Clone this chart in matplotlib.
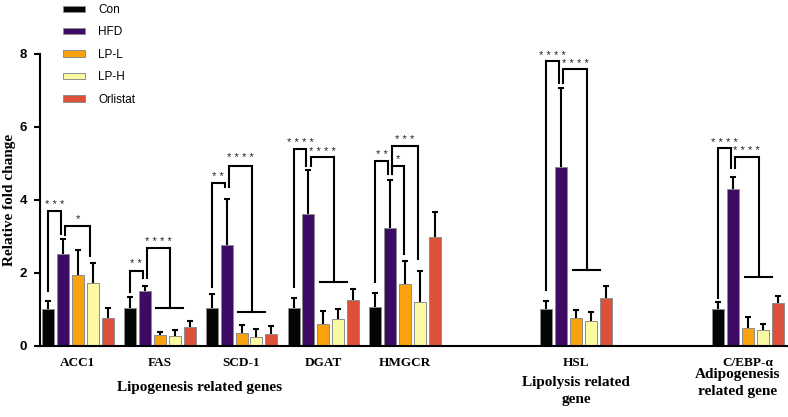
import numpy as np
import matplotlib
matplotlib.use("Agg")
import matplotlib.pyplot as plt
import matplotlib.transforms as mtransforms

# data
genes = ["ACC1", "FAS", "SCD-1", "DGAT", "HMGCR", "HSL", "C/EBP-\u03b1"]
groups = ["Con", "HFD", "LP-L", "LP-H", "Orlistat"]

con = [1.00, 1.02, 1.04, 1.03, 1.05, 1.01, 1.01]
con_sd = [0.23, 0.31, 0.38, 0.28, 0.40, 0.22, 0.19]
hfd = [2.52, 1.49, 2.75, 3.60, 3.23, 4.90, 4.30]
hfd_sd = [0.40, 0.15, 1.27, 1.20, 1.31, 2.16, 0.31]
lpl = [1.92, 0.30, 0.35, 0.58, 1.68, 0.74, 0.49]
lpl_sd = [0.69, 0.08, 0.22, 0.37, 0.64, 0.23, 0.30]
lph = [1.70, 0.27, 0.22, 0.73, 1.18, 0.67, 0.42]
lph_sd = [0.56, 0.15, 0.23, 0.27, 0.87, 0.24, 0.18]
orl = [0.76, 0.52, 0.32, 1.24, 2.97, 1.31, 1.16]
orl_sd = [0.28, 0.15, 0.21, 0.31, 0.70, 0.33, 0.20]

# significance: gene, left leg, right leg, bracket top, left foot, right foot, stars, star height
sig = [
    (0, "C", "H1", 3.68, 1.49, 3.05, "***", 3.94),
    (0, "H2", "Y", 3.27, 3.03, 2.45, "*", 3.55),
    (1, "C", "H1", 2.05, 1.47, 1.84, "**", 2.32),
    (1, "H2", "T", 2.66, 1.84, 1.04, "****", 2.94),
    (2, "C", "H1", 4.44, 1.61, 4.33, "**", 4.72),
    (2, "H2", "T", 4.93, 4.33, 0.91, "****", 5.22),
    (3, "C", "H1", 5.38, 1.61, 4.92, "****", 5.63),
    (3, "H2", "T", 5.17, 4.92, 1.73, "****", 5.40),
    (4, "C", "H1", 5.06, 1.73, 4.69, "**", 5.31),
    (4, "H2", "L", 4.92, 4.69, 2.51, "*", 5.19),
    (4, "H2", "Y", 5.47, 4.69, 2.37, "***", 5.72),
    (5, "C", "H1", 7.79, 1.52, 7.20, "****", 8.03),
    (5, "H2", "T", 7.57, 7.20, 2.07, "****", 7.80),
    (6, "C", "H1", 5.40, 1.29, 4.85, "****", 5.65),
    (6, "H2", "T", 5.16, 4.85, 1.88, "****", 5.43),
]

colors = ["#050508", "#3d0b63", "#f9a20d", "#fbfaa2", "#dd513a"]

x = np.array([0, 1, 2, 3, 4, 6.09, 8.19])
step = 0.182
width = 0.147
legs = {"C": -2 * step, "H1": -step - 0.025, "H2": -step + 0.025,
        "L": -0.015, "Y": step - 0.03, "T": 0.13}

fig = plt.figure(figsize=(7.88, 4.17), dpi=100)
ax = fig.add_axes([39.5 / 788, 1 - 345.5 / 417, 748.5 / 788, 292 / 417])

means = [con, hfd, lpl, lph, orl]
sds = [con_sd, hfd_sd, lpl_sd, lph_sd, orl_sd]
handles = []
for i in range(5):
    xi = x + (i - 2) * step
    m = np.array(means[i])
    top = m + np.array(sds[i])
    b = ax.bar(xi, m, width, color=colors[i], edgecolor="#8c8c8c",
               linewidth=0.7, label=groups[i], zorder=2)
    handles.append(b)
    ax.vlines(xi, m, top, color="k", lw=1.5, zorder=3)
    ax.plot(xi, top, ls="none", marker="_", ms=4.5, mew=1.5, color="k", zorder=3)

star_fs = 8
for g, a, b, ytop, ya, yb, lab, yt in sig:
    xa = x[g] + legs[a]
    xb = x[g] + legs[b]
    ax.plot([xa, xa, xb, xb], [ya, ytop, ytop, yb], color="k", lw=1.5,
            solid_joinstyle="miter", zorder=4)
    if b == "T":
        ax.plot([x[g] - 0.04, x[g] + 0.29], [yb, yb], color="k", lw=1.5, zorder=4)
    tr = mtransforms.offset_copy(ax.transData, fig, y=-0.58 * star_fs, units="points")
    ax.text((xa + xb) / 2, yt, " ".join(lab), transform=tr, ha="center", va="baseline",
            fontsize=star_fs, family="Liberation Sans", color="#222222")

ax.set_xlim(-0.47, 8.68)
ax.set_ylim(0, 8)
ax.set_yticks([0, 2, 4, 6, 8])
ax.set_xticks(x)
ax.set_xticklabels(genes, family="Liberation Serif", fontweight="bold", fontsize=9.5)
ax.tick_params(axis="x", length=0, pad=8)
ax.tick_params(axis="y", length=4, width=1.5, pad=5)
for t in ax.get_yticklabels():
    t.set_family("Liberation Sans")
    t.set_fontweight("bold")
    t.set_fontsize(9.5)
for s in ["top", "right"]:
    ax.spines[s].set_visible(False)
ax.spines["left"].set_linewidth(1.5)
ax.spines["bottom"].set_linewidth(1.5)

ax.set_ylabel("Relative fold change", family="Liberation Serif", fontweight="bold",
              fontsize=11, va="center")
ax.yaxis.set_label_coords(-30 / 748.5, 0.5)

lab_kw = dict(family="Liberation Serif", fontweight="bold", fontsize=11,
              ha="center", va="center", linespacing=1.4)
tb = mtransforms.blended_transform_factory(ax.transData, ax.transAxes)
ax.text(1.49, -0.1455, "Lipogenesis related genes", transform=tb, **lab_kw)
ax.text(x[5], -0.155, "Lipolysis related\ngene", transform=tb, **lab_kw)
ax.text(8.06, -0.127, "Adipogenesis\nrelated gene", transform=tb, **lab_kw)

leg = ax.legend(handles=handles, loc="upper left", frameon=False,
                bbox_to_anchor=(63 / 788, 1 - 4 / 417), bbox_transform=fig.transFigure,
                prop={"family": "Liberation Sans", "size": 8.5},
                handlelength=1.9, handleheight=0.45, handletextpad=1.1,
                labelspacing=0.88, borderpad=0, borderaxespad=0)

fig.savefig("out.png", dpi=100)
